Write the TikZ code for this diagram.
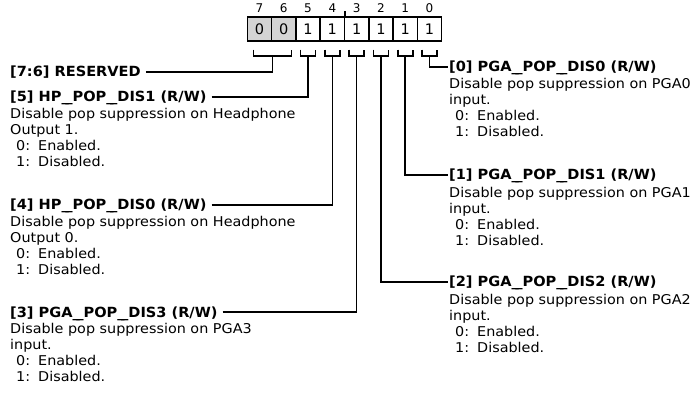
\documentclass[tikz,border=0pt]{standalone}
\usepackage{fontspec}
\setmainfont{DejaVu Sans}
\newfontfamily\regfont[FakeStretch=1.065]{DejaVu Sans}
\newfontfamily\hdrfont[FakeStretch=1.04]{DejaVu Sans Bold}
\definecolor{resgray}{RGB}{212,212,212}
\newcommand{\us}{\_\kern-0.25em\_}
\begin{document}
\begin{tikzpicture}[x=1pt,y=-1pt,
  bitbox/.style={draw, line width=1.5pt, minimum width=24.3pt, minimum height=24pt, inner sep=0pt, font=\fontsize{14.5}{14.5}\selectfont},
  bitnum/.style={inner sep=0pt, font=\fontsize{12}{12}\selectfont},
  hdr/.style={anchor=west, inner sep=0pt, text height=10pt, text depth=0pt, font=\hdrfont\fontsize{14}{14}\selectfont},
  desc/.style={anchor=north west, inner sep=0pt, align=left, font=\regfont\fontsize{13.5}{16}\selectfont},
  conn/.style={line width=1.6pt}]
\useasboundingbox (0,0) rectangle (693,395);
\newcommand{\opt}[2]{\hspace*{6pt}\makebox[22pt][l]{#1:}#2}
% register boxes
\foreach \i/\v in {7/0,6/0,5/1,4/1,3/1,2/1,1/1,0/1}{
  \pgfmathsetmacro{\cx}{259.45+24.3*(7-\i)}
  \ifnum\i>5
    \node[bitbox, fill=resgray] (b\i) at (\cx,29) {\v};
  \else
    \node[bitbox] (b\i) at (\cx,29) {\v};
  \fi
  \node[bitnum] (n\i) at (\cx,8) {\i};
}
\draw[conn] (b4.north east) -- ++(0,-5);
% brackets
\foreach \i in {5,4,3,2,1,0}{
  \coordinate (s\i) at ([yshift=-14pt]b\i.south);
  \draw[conn] ([shift={(-7.5pt,-8pt)}]b\i.south) -- ([xshift=-7.5pt]s\i) -- ([xshift=7.5pt]s\i) -- ([shift={(7.5pt,-8pt)}]b\i.south);
}
\coordinate (s76) at ([yshift=-14pt]b7.south east);
\draw[conn] ([shift={(-19pt,6pt)}]s76) -- ([xshift=-19pt]s76) -- ([xshift=19pt]s76) -- ([shift={(19pt,6pt)}]s76);
% left fields
\node[hdr] (hR) at (10,72) {[7:6] RESERVED};
\node[hdr] (h5) at (10,97) {[5] HP\us POP\us DIS1 (R/W)};
\node[desc] (d5) at (10,108.5) {Disable pop suppression on Headphone\\Output 1.\\\opt{0}{Enabled.}\\\opt{1}{Disabled.}};
\node[hdr] (h4) at (10,205) {[4] HP\us POP\us DIS0 (R/W)};
\node[desc] (d4) at (10,216.5) {Disable pop suppression on Headphone\\Output 0.\\\opt{0}{Enabled.}\\\opt{1}{Disabled.}};
\node[hdr] (h3) at (10,312) {[3] PGA\us POP\us DIS3 (R/W)};
\node[desc] (d3) at (10,323.5) {Disable pop suppression on PGA3\\input.\\\opt{0}{Enabled.}\\\opt{1}{Disabled.}};
% right fields
\node[hdr] (h0) at (449,67) {[0] PGA\us POP\us DIS0 (R/W)};
\node[desc] (d0) at (449,78.5) {Disable pop suppression on PGA0\\input.\\\opt{0}{Enabled.}\\\opt{1}{Disabled.}};
\node[hdr] (h1) at (449,175) {[1] PGA\us POP\us DIS1 (R/W)};
\node[desc] (d1) at (449,187) {Disable pop suppression on PGA1\\input.\\\opt{0}{Enabled.}\\\opt{1}{Disabled.}};
\node[hdr] (h2) at (449,282) {[2] PGA\us POP\us DIS2 (R/W)};
\node[desc] (d2) at (449,294) {Disable pop suppression on PGA2\\input.\\\opt{0}{Enabled.}\\\opt{1}{Disabled.}};
% connectors
\draw[conn] ([xshift=5pt]hR.east) -| (s76);
\draw[conn] ([xshift=5pt]h5.east) -| (s5);
\draw[conn] ([xshift=5pt]h4.east) -| (s4);
\draw[conn] ([xshift=5pt]h3.east) -| (s3);
\draw[conn] (s0) |- ([xshift=-1pt]h0.west);
\draw[conn] (s1) |- ([xshift=-1pt]h1.west);
\draw[conn] (s2) |- ([xshift=-1pt]h2.west);
\end{tikzpicture}
\end{document}
